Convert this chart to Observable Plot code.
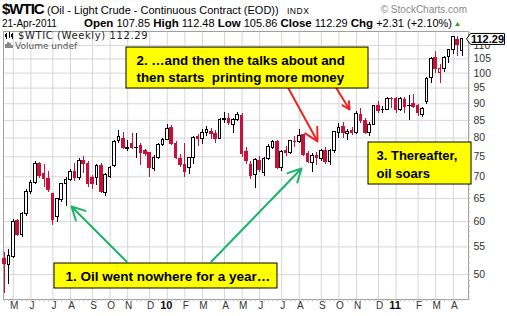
<!DOCTYPE html>
<html>
<head>
<meta charset="utf-8">
<script src="https://cdn.jsdelivr.net/npm/d3@7"></script>
<script src="https://cdn.jsdelivr.net/npm/@observablehq/plot@0.6"></script>
<style>
  body { margin: 0; background: #fff; }
  #chart { width: 507px; height: 316px; overflow: hidden; }
</style>
</head>
<body>
<div id="chart"></div>
<script>
// ---- DATA (weekly candles, first week starting Monday 2009-04-20) ----
const weekStart = "2009-04-20";
const opens = [
  52.8, 51.7, 53.2, 60.1, 57.4, 61.5, 66.5, 68.6, 73.2, 70.8, 69.4, 66.0, 61.0, 64.6, 68.3, 69.3, 71.1, 69.8, 73.9, 73.2,
  69.8, 69.8, 72.7, 66.3, 70.0, 72.6, 79.2, 79.8, 77.0, 78.4, 77.2, 77.8, 76.4, 75.9, 71.9, 74.7, 78.1,
  79.4, 82.9, 78.4, 74.5, 72.9, 72.2, 74.7, 80.4, 79.8, 81.4, 81.8, 81.1, 79.8, 85.0, 85.5, 83.8, 85.1, 86.3, 76.2, 72.8,
  70.4, 74.0, 71.0, 74.4, 77.4, 79.0, 72.2, 76.4, 75.9, 79.0, 79.0, 80.7, 75.6, 73.5, 75.3, 74.4, 76.6, 73.6, 76.4, 81.5,
  83.0, 81.0, 82.0, 81.3, 86.7, 84.8, 81.5, 83.8, 89.3, 88.0, 88.2, 91.6,
  91.5, 88.1, 91.3, 89.4, 90.0, 89.3, 86.6, 90.5, 98.3, 105.2, 100.0, 101.4, 105.6, 108.4, 112.0, 107.85
];
const highs = [
  54.0, 54.6, 60.4, 60.5, 62.0, 66.9, 69.2, 73.9, 73.6, 73.0, 71.4, 66.2, 65.0, 68.5, 69.8, 71.9, 73.2, 74.6, 75.0, 73.8,
  70.2, 73.0, 73.4, 70.8, 72.5, 79.4, 82.1, 81.5, 79.2, 81.2, 81.2, 78.6, 77.0, 76.2, 75.2, 78.4, 79.8,
  83.8, 83.6, 79.0, 75.5, 78.4, 74.9, 80.4, 81.0, 82.3, 83.2, 82.8, 82.1, 85.5, 87.3, 87.0, 85.6, 87.2, 87.0, 77.4, 73.8,
  74.6, 75.0, 74.7, 78.2, 79.2, 79.3, 76.6, 77.7, 79.4, 80.4, 82.4, 81.0, 76.5, 75.8, 76.2, 77.0, 77.5, 76.8, 81.8, 84.0,
  84.3, 82.5, 83.0, 87.5, 88.6, 85.5, 84.3, 89.5, 90.8, 89.3, 91.9, 92.1,
  91.9, 92.0, 91.9, 92.6, 92.8, 89.8, 88.8, 98.5, 105.5, 107.7, 103.0, 106.0, 108.6, 113.6, 113.4, 112.48
];
const lows = [
  46.8, 48.3, 52.9, 57.0, 56.8, 61.0, 65.9, 68.2, 69.5, 67.5, 66.3, 59.3, 59.8, 64.0, 63.1, 68.9, 68.8, 69.2, 70.8, 67.5,
  67.0, 68.0, 66.0, 65.4, 69.5, 72.2, 78.5, 76.8, 76.3, 76.9, 74.6, 72.7, 75.0, 69.8, 71.4, 74.3, 77.8,
  79.2, 78.0, 74.3, 72.3, 69.8, 70.6, 73.0, 77.8, 78.2, 80.5, 79.6, 78.6, 79.5, 84.1, 83.5, 81.3, 84.6, 74.8, 73.0, 69.3,
  67.3, 71.0, 70.0, 74.0, 76.8, 71.8, 71.2, 75.0, 75.5, 77.5, 78.5, 75.0, 73.2, 71.1, 72.8, 73.9, 73.0, 72.8, 75.9, 79.9,
  80.0, 79.3, 80.8, 80.9, 84.0, 80.9, 80.3, 83.5, 87.0, 86.9, 87.8, 88.6,
  86.9, 87.6, 87.0, 85.0, 88.6, 86.0, 85.8, 89.8, 96.6, 100.0, 96.4, 100.2, 103.2, 106.8, 105.9, 105.86
];
const closes = [
  51.8, 53.4, 60.0, 57.4, 61.6, 66.5, 68.6, 73.2, 70.3, 69.4, 66.8, 60.4, 64.8, 68.3, 69.3, 71.2, 69.8, 73.9, 73.1, 68.3,
  68.2, 72.6, 66.4, 70.5, 72.2, 79.0, 80.4, 77.2, 77.4, 77.2, 77.3, 75.9, 75.6, 72.2, 74.7, 78.1, 79.4,
  82.6, 78.4, 74.7, 72.9, 71.1, 74.7, 80.0, 79.7, 81.3, 82.3, 81.2, 79.7, 85.2, 85.4, 84.2, 85.1, 86.6, 75.8, 73.9, 70.2,
  74.2, 71.7, 74.3, 77.6, 78.8, 72.2, 76.2, 75.9, 79.1, 78.9, 80.6, 75.4, 73.6, 75.2, 74.6, 76.5, 73.7, 76.5, 81.6, 82.7,
  81.3, 81.7, 81.4, 86.9, 84.9, 81.5, 83.8, 89.2, 87.8, 88.1, 91.5, 91.4,
  88.0, 91.5, 89.1, 89.3, 89.0, 87.2, 88.3, 97.9, 104.9, 101.6, 101.4, 105.3, 108.4, 113.2, 110.3, 112.29
];

// axis ticks
const yTicks = [50, 55, 60, 65, 70, 75, 80, 85, 90, 95, 100, 105, 110];
const monthTickDates = ["2009-05-04", "2009-06-01", "2009-07-06", "2009-08-03", "2009-09-07", "2009-10-05", "2009-11-02", "2009-12-07",
  "2010-02-01", "2010-03-01", "2010-04-05", "2010-05-03", "2010-05-31", "2010-07-05", "2010-08-02", "2010-09-06", "2010-10-04", "2010-11-01", "2010-12-06",
  "2011-02-07", "2011-03-07", "2011-04-04"];
const monthTickLabels = ["M", "J", "J", "A", "S", "O", "N", "D",
  "F", "M", "A", "M", "J", "J", "A", "S", "O", "N", "D",
  "F", "M", "A"];
const yearTickDates = ["2010-01-04", "2011-01-03"];
const yearTickLabels = ["10", "11"];
const xDomain = ["2009-04-18T10:00:00Z", "2011-04-28T04:00:00Z"];
const yDomain = [45.9, 115.4];

// annotations (data coordinates)
const boxX1 = ["2009-07-08T13:00:00Z", "2009-10-31T02:00:00Z", "2010-11-20T02:00:00Z"];
const boxX2 = ["2010-06-28T07:00:00Z", "2010-11-20T02:00:00Z", "2011-05-02T23:00:00Z"];
const boxY1 = [51.95, 109.2, 78.77];
const boxY2 = [47.67, 94.85, 68.17];
const noteTexts = [
  "1. Oil went nowhere for a year\u2026",
  "2. \u2026and then the talks about and\nthen starts \u00a0printing more money",
  "3. Thereafter,\noil soars"
];
const noteX = ["2009-07-26T01:00:00Z", "2009-11-16T00:00:00Z", "2010-12-02T19:00:00Z"];
const noteY = [49.72, 101.75, 73.46];
const noteLineHeights = [1, 1.27, 1.385];
const noteSizes = [13.5, 13.3, 13];
const arrowX1 = ["2009-10-31T02:00:00Z", "2010-03-15T07:00:00Z", "2010-07-15T19:00:00Z", "2010-09-30T05:00:00Z"];
const arrowY1 = [52.30, 52.30, 94.86, 94.86];
const arrowX2 = ["2009-08-04T14:00:00Z", "2010-08-05T12:00:00Z", "2010-08-30T23:00:00Z", "2010-10-20T22:00:00Z"];
const arrowY2 = [63.21, 72.04, 79.05, 88.24];
const arrowColors = ["#1db36b", "#1db36b", "#ee2424", "#ee2424"];

// ---- BUILD ----
const RED = "#c8103a", BLACK = "#000000";
const D = s => new Date(s);
const t0 = D(weekStart + "T00:00:00Z");
const HALF = 2.2 * 864e5;
const candles = opens.map((o, i) => {
  const date = d3.utcDay.offset(t0, 7 * i);
  const c = closes[i];
  const ref = i > 0 ? closes[i - 1] : o;
  const col = c < ref ? RED : BLACK;
  return {
    date, open: o, high: highs[i], low: lows[i], close: c,
    color: col, body: c < o ? col : "#ffffff",
    x1: new Date(+date - HALF), x2: new Date(+date + HALF)
  };
});
const xEnd = D(xDomain[1]);
const idx3 = [0, 1, 2];
const idx4 = [0, 1, 2, 3];
const FONT = "Arial, 'Liberation Sans', sans-serif";

const plot = Plot.plot({
  width: 507, height: 316,
  marginLeft: 3, marginRight: 39, marginTop: 31, marginBottom: 17,
  x: {type: "utc", domain: xDomain.map(D), axis: null},
  y: {type: "log", domain: yDomain, axis: null},
  color: {type: "identity"},
  style: {fontFamily: FONT, fontSize: "10px", background: "#ffffff", color: "#000", overflow: "visible"},
  marks: [
    Plot.ruleY(yTicks, {stroke: "#d6d6d6", strokeWidth: 1}),
    Plot.ruleX(monthTickDates.concat(yearTickDates), {x: d => D(d), stroke: "#d6d6d6", strokeWidth: 1}),
    Plot.frame({stroke: "#a0a0a0"}),
    Plot.ruleY(d3.range(46, 116), {y: d => d, x1: () => xEnd, x2: () => new Date(+xEnd + 3 * 864e5), stroke: "#b0b0b0"}),
    Plot.ruleX(candles, {x: "date", y1: () => yDomain[0], y2: () => yDomain[0] * 0.992, stroke: "#b8b8b8"}),
    Plot.text(yTicks, {y: d => d, text: d => String(d), frameAnchor: "right", textAnchor: "start", dx: 5, fontSize: 10.5, fill: "#333"}),
    Plot.text(monthTickDates, {x: d => D(d), text: (d, i) => monthTickLabels[i], frameAnchor: "bottom", dy: 9, dx: 1, fontSize: 10, fill: "#333"}),
    Plot.text(yearTickDates, {x: d => D(d), text: (d, i) => yearTickLabels[i], frameAnchor: "bottom", dy: 9, dx: -1, fontSize: 11, fontWeight: "bold", fill: "#111"}),
    // candles
    Plot.ruleX(candles, {x: "date", y1: "low", y2: "high", stroke: "color", strokeWidth: 1, shapeRendering: "crispEdges"}),
    Plot.rect(candles, {x1: "x1", x2: "x2", y1: "open", y2: "close", fill: "body", stroke: "color", strokeWidth: 1, shapeRendering: "crispEdges"}),
    // annotations
    Plot.arrow(idx4, {
      x1: i => D(arrowX1[i]), y1: i => arrowY1[i], x2: i => D(arrowX2[i]), y2: i => arrowY2[i],
      stroke: i => arrowColors[i], strokeWidth: 2, headLength: 11, headAngle: 55
    }),
    Plot.rect(idx3, {
      x1: i => D(boxX1[i]), x2: i => D(boxX2[i]), y1: i => boxY1[i], y2: i => boxY2[i],
      fill: "#ffff00", stroke: "#000000", strokeWidth: 1
    }),
    ...noteTexts.map((t, i) => Plot.text([t], {
      x: () => D(noteX[i]), y: () => noteY[i], text: d => d,
      textAnchor: "start", lineAnchor: "middle", lineHeight: noteLineHeights[i],
      fontSize: noteSizes[i], fontWeight: "bold", fill: "#000"
    }))
  ]
});

document.getElementById("chart").appendChild(plot);

// ---- header, legend and last-price tag ----
const svg = d3.select(plot);
const W = 507, MR = 39;
const lastClose = closes[closes.length - 1];
const yy = plot.scale("y").apply(lastClose);
const xr = W - MR;
const tag = svg.append("g");
tag.append("path")
  .attr("d", `M${xr - 1.5},${yy} L${xr + 2.5},${yy - 5.5} L${W - 2.5},${yy - 5.5} L${W - 2.5},${yy + 5.5} L${xr + 2.5},${yy + 5.5} Z`)
  .attr("fill", "#fff").attr("stroke", "#000").attr("stroke-width", 1);
tag.append("text").attr("x", (xr + 2.5 + W - 2.5) / 2).attr("y", yy + 4)
  .attr("text-anchor", "middle").attr("font-family", FONT).attr("font-size", 11).attr("font-weight", "bold")
  .text(d3.format(".2f")(lastClose));

const hdr = svg.append("g").attr("font-family", FONT).attr("text-anchor", "start").style("white-space", "pre");
hdr.append("text").attr("x", 2).attr("y", 14).attr("font-size", 15).attr("font-weight", "bold").attr("letter-spacing", -1).text("$WTIC");
hdr.append("text").attr("x", 47).attr("y", 14).attr("font-size", 11).text("(Oil - Light Crude - Continuous Contract (EOD))");
hdr.append("text").attr("x", 287).attr("y", 14).attr("font-size", 8.5).attr("letter-spacing", 0.5).text("INDX");
hdr.append("text").attr("x", 467).attr("y", 13).attr("text-anchor", "end").attr("font-size", 10).attr("fill", "#888").text("\u00a9 StockCharts.com");

hdr.append("text").attr("x", 2).attr("y", 27).attr("font-size", 10).text("21-Apr-2011");
const l2 = hdr.append("text").attr("x", 84).attr("y", 27);
const parts = [["Open", true], [" 107.85 ", false], ["High", true], [" 112.48 ", false], ["Low", true], [" 105.86 ", false],
  ["Close", true], [" 112.29 ", false], ["Chg", true], [" +2.31 (+2.10%)", false]];
parts.forEach(([s, b]) => l2.append("tspan").attr("font-size", b ? 11.5 : 11).attr("font-weight", b ? "bold" : "normal").text(s));
hdr.append("path").attr("d", "M455,26 L457.5,22 L460,26 Z").attr("fill", "#2fa52f");

// legend inside plot
const lg = svg.append("g").attr("text-anchor", "start");
lg.append("path").attr("d", "M6,33 V39 M9,32 V38 M12,33 V39").attr("stroke", "#000").attr("stroke-width", 1).attr("shape-rendering", "crispEdges");
lg.append("rect").attr("x", 5).attr("y", 34).attr("width", 2).attr("height", 3).attr("fill", "#000");
lg.append("rect").attr("x", 11).attr("y", 34).attr("width", 2).attr("height", 3).attr("fill", "#000");
lg.append("text").attr("x", 18).attr("y", 38.5).attr("font-family", "'DejaVu Sans', sans-serif").attr("font-size", 10)
  .attr("letter-spacing", 0.6).attr("fill", "#222").text("$WTIC (Weekly) " + d3.format(".2f")(lastClose));
lg.append("path").attr("d", "M6,48 V44 M8,48 V42 M10,48 V43 M12,48 V45").attr("stroke", "#888").attr("stroke-width", 1.5).attr("shape-rendering", "crispEdges");
lg.append("text").attr("x", 15).attr("y", 48.5).attr("font-family", "'DejaVu Sans', sans-serif").attr("font-size", 9)
  .attr("fill", "#555").text("Volume undef");
</script>
</body>
</html>
